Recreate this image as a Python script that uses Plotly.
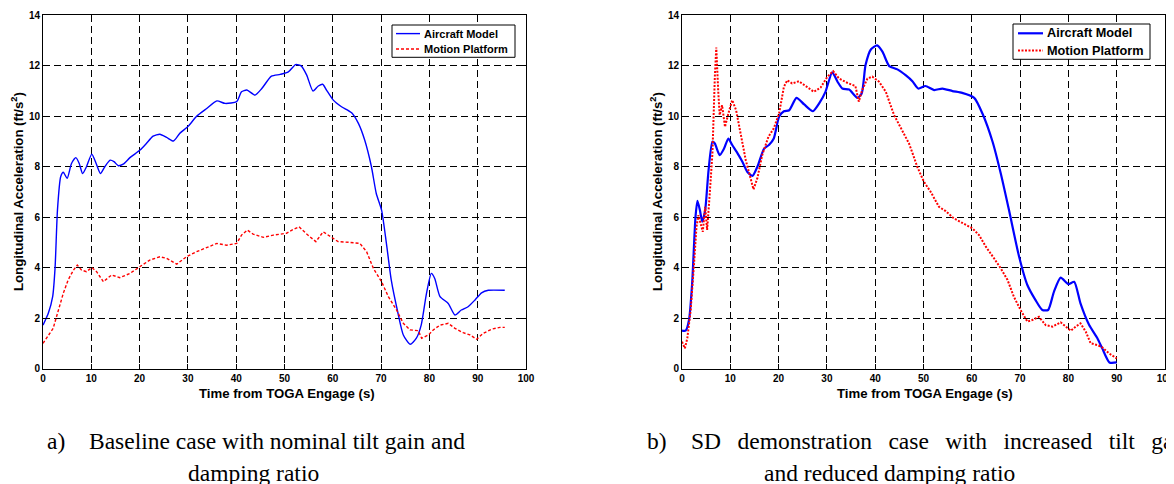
import plotly.graph_objects as go

# ---------------- data ----------------
# a) Baseline case
a_air_t = [0, 1.1, 2.0, 2.5, 3.0, 3.66, 4.2, 5.0, 5.9, 6.8, 7.5, 8.2, 9.0, 10.1, 11.0, 11.9, 12.8, 13.9,
           14.7, 15.6, 16.6, 18.0, 20.1, 21.4, 22.8, 24.2, 25.6, 27.0, 28.3, 30.1, 31.8, 33.9, 36.0, 37.7,
           40.1, 41.1, 42.2, 43.9, 45.3, 47.3, 49.1, 50.8, 52.3, 53.5, 54.6, 55.9, 57.0, 57.9, 58.7, 60.1,
           61.8, 63.9, 65.3, 66.6, 68.0, 69.0, 70.1, 71.1, 72.1, 73.5, 74.6, 76.0, 77.3, 78.3, 79.4, 80.4,
           81.1, 82.2, 83.9, 85.3, 86.6, 88.0, 89.4, 90.8, 92.2, 95.6]
a_air_v = [1.72, 2.19, 2.85, 4.0, 6.3, 7.6, 7.78, 7.54, 8.13, 8.36, 8.13, 7.73, 8.0, 8.5, 8.13, 7.73, 8.0, 8.26,
           8.2, 8.04, 8.1, 8.36, 8.66, 8.92, 9.21, 9.29, 9.16, 9.02, 9.32, 9.61, 10.0, 10.31, 10.61, 10.51,
           10.58, 10.97, 11.04, 10.84, 11.1, 11.59, 11.66, 11.76, 12.05, 11.99, 11.63, 11.0, 11.2, 11.27, 11.04, 10.64,
           10.38, 10.14, 9.72, 9.06, 8.0, 6.94, 6.28, 4.96, 3.51, 2.19, 1.33, 0.96, 1.2, 1.72, 2.98, 3.77,
           3.57, 2.85, 2.58, 2.12, 2.32, 2.45, 2.71, 3.0, 3.1, 3.1]
a_mp_t = [0, 1.1, 2.1, 3.2, 4.2, 5.2, 6.3, 7.1, 8.0, 9.0, 10.1, 11.1, 12.5, 14.2, 15.9, 18.0, 20.1, 22.1,
          24.2, 25.6, 27.7, 29.7, 31.8, 33.9, 36.0, 38.0, 40.1, 41.1, 42.3, 43.5, 45.6, 47.7, 50.4, 51.8,
          53.0, 54.6, 56.5, 58.0, 59.4, 61.1, 63.6, 65.6, 67.0, 68.4, 70.1, 71.5, 73.2, 74.6, 76.0, 77.7,
          78.4, 79.8, 80.8, 82.2, 83.9, 85.3, 87.0, 88.4, 89.8, 91.1, 92.9, 94.6, 95.6]
a_mp_v = [1.0, 1.33, 1.59, 2.32, 2.98, 3.51, 3.9, 4.1, 3.9, 3.84, 4.0, 3.84, 3.44, 3.71, 3.6, 3.77, 4.04, 4.3,
          4.43, 4.37, 4.14, 4.43, 4.63, 4.8, 4.96, 4.89, 4.96, 5.29, 5.49, 5.33, 5.2, 5.29, 5.36, 5.51,
          5.62, 5.33, 5.03, 5.42, 5.25, 5.03, 5.0, 4.96, 4.63, 3.97, 3.44, 2.85, 2.32, 1.79, 1.53, 1.5,
          1.2, 1.33, 1.53, 1.72, 1.79, 1.59, 1.42, 1.33, 1.16, 1.39, 1.56, 1.63, 1.63]

# b) SD demonstration case
b_air_t = [0, 0.76, 1.45, 2.1, 2.8, 3.2, 3.7, 4.2, 4.8, 5.5, 6.3, 6.8, 7.8, 8.7, 9.6, 10.4, 11.5, 12.5, 13.5,
           14.6, 15.6, 17.0, 18.0, 19.0, 20.1, 21.1, 22.2, 23.7, 25.3, 27.1, 28.4, 29.7, 31.1, 32.2, 33.2,
           34.6, 36.3, 37.2, 38.0, 39.1, 40.4, 41.5, 42.9, 44.6, 46.3, 47.7, 48.9, 50.4, 52.2, 53.9, 56.0,
           58.0, 60.5, 62.2, 64.3, 66.0, 67.7, 69.8, 71.5, 73.2, 74.6, 75.8, 77.0, 78.4, 80.0, 81.2, 82.5,
           84.3, 86.0, 87.0, 88.5, 90.0]
b_air_v = [1.5, 1.5, 1.92, 3.37, 6.02, 6.65, 6.28, 5.82, 6.28, 7.87, 8.99, 8.92, 8.46, 8.72, 9.12, 8.86, 8.53, 8.2, 7.8,
           7.64, 8.0, 8.72, 8.86, 9.12, 9.98, 10.2, 10.24, 10.73, 10.47, 10.2, 10.51, 10.97, 11.74, 11.37, 11.1,
           11.06, 10.73, 10.9, 12.03, 12.65, 12.81, 12.56, 11.99, 11.86, 11.63, 11.39, 11.1, 11.2, 11.04, 11.1, 11.0,
           10.93, 10.73, 10.11, 8.99, 7.73, 6.28, 4.43, 3.31, 2.71, 2.32, 2.32, 3.04, 3.6, 3.34, 3.44, 2.58,
           1.72, 1.2, 0.8, 0.24, 0.24]
b_mp_t = [0, 0.6, 1.1, 1.8, 2.5, 3.0, 3.4, 3.9, 4.3, 4.8, 5.2, 5.7, 6.3, 6.8, 7.1, 7.5, 7.8, 8.3, 8.9, 9.6,
          10.4, 11.2, 12.1, 13.2, 14.2, 14.8, 15.6, 16.6, 17.9, 19.0, 20.1, 21.1, 21.8, 22.8, 24.2, 25.9,
          27.3, 28.7, 30.1, 31.3, 32.5, 34.2, 35.9, 36.6, 37.3, 38.4, 39.4, 40.8, 42.2, 43.9, 45.6, 47.0,
          48.0, 48.7, 50.1, 51.5, 53.2, 54.6, 56.3, 58.0, 60.1, 61.5, 62.9, 64.6, 66.0, 67.4, 68.7, 70.1,
          71.5, 72.5, 73.9, 75.3, 76.7, 78.4, 79.4, 80.5, 81.5, 82.5, 83.6, 84.6, 86.0, 87.0, 88.4, 90.0]
b_mp_v = [1.06, 0.8, 1.2, 2.32, 4.17, 5.62, 6.08, 5.75, 5.42, 6.41, 5.49, 6.81, 8.53, 11.57, 12.73, 10.99, 10.05, 10.44, 9.58, 10.11,
          10.64, 10.24, 9.32, 8.26, 7.54, 7.1, 7.54, 8.46, 9.19, 9.52, 10.11, 11.17, 11.43, 11.3, 11.39, 11.17,
          10.97, 11.14, 11.57, 11.79, 11.5, 11.33, 11.2, 10.58, 11.04, 11.5, 11.57, 11.37, 10.97, 10.05, 9.45, 8.92,
          8.39, 8.0, 7.4, 7.0, 6.41, 6.24, 5.95, 5.78, 5.56, 5.29, 4.83, 4.37, 3.97, 3.51, 2.85, 2.32,
          1.86, 1.92, 2.05, 1.72, 1.66, 1.83, 1.66, 1.5, 1.66, 1.79, 1.46, 1.0, 0.93, 0.84, 0.6, 0.4]

x_ticks = [0, 10, 20, 30, 40, 50, 60, 70, 80, 90, 100]
y_ticks = [0, 2, 4, 6, 8, 10, 12, 14]
series_names = ["Aircraft Model", "Motion Platform"]
x_title = "Time from TOGA Engage (s)"
y_title = "Longitudinal Acceleration (ft/s<sup>2</sup>)"
cap_a_label, cap_a_line1, cap_a_line2 = "a)", "Baseline case with nominal tilt gain and", "damping ratio"
cap_b_label, cap_b_line1, cap_b_line2 = "b)", "SD demonstration case with increased tilt gain", "and reduced damping ratio"

# ---------------- figure ----------------
# the page body keeps an 8px margin, so the figure is drawn 8px smaller and
# every reference pixel position is shifted back by that offset
OX, OY = 8, 8
W, H = 1174 - OX, 484 - OY
BLUE, RED = "#0000FF", "#FF0000"
AX_FONT = "Arial, 'Liberation Sans', sans-serif"
SERIF = "'Times New Roman', 'Liberation Serif', serif"

A_AIR_LINE = dict(color=BLUE, width=1.4)
A_MP_LINE = dict(color=RED, width=1.4, dash="3px,2px")
B_AIR_LINE = dict(color=BLUE, width=2.2)
B_MP_LINE = dict(color=RED, width=2, dash="2px,1.5px")

fig = go.Figure()
fig.add_trace(go.Scatter(x=a_air_t, y=a_air_v, mode="lines", name=series_names[0], line=dict(shape="spline", smoothing=0.6, **A_AIR_LINE), xaxis="x", yaxis="y"))
fig.add_trace(go.Scatter(x=a_mp_t, y=a_mp_v, mode="lines", name=series_names[1], line=A_MP_LINE, xaxis="x", yaxis="y"))
fig.add_trace(go.Scatter(x=b_air_t, y=b_air_v, mode="lines", name=series_names[0], line=dict(shape="spline", smoothing=0.6, **B_AIR_LINE), xaxis="x2", yaxis="y2"))
fig.add_trace(go.Scatter(x=b_mp_t, y=b_mp_v, mode="lines", name=series_names[1], line=B_MP_LINE, xaxis="x2", yaxis="y2"))


def px_x(p):
    return (p - OX) / W


def px_y(p):
    return 1 - (p - OY) / H


axis_common = dict(
    showline=True, linecolor="black", linewidth=1, mirror="ticks",
    ticks="inside", ticklen=5, tickcolor="black", automargin=False,
    showgrid=True, gridcolor="black", gridwidth=1, griddash="7px,4px",
    zeroline=False, tickfont=dict(family=AX_FONT, size=10, color="black", weight="bold"),
    fixedrange=True,
)
ydom = [px_y(368.5), px_y(15.4)]
fig.update_layout(
    xaxis=dict(domain=[px_x(43), px_x(526)], range=[0, 100], tickvals=x_ticks, anchor="y", **axis_common),
    yaxis=dict(domain=ydom, range=[0, 14], tickvals=y_ticks, anchor="x", **axis_common),
    xaxis2=dict(domain=[px_x(682), px_x(1165)], range=[0, 100], tickvals=x_ticks, anchor="y2", **axis_common),
    yaxis2=dict(domain=ydom, range=[0, 14], tickvals=y_ticks, anchor="x2", **axis_common),
)

shapes = []
annots = []


# ---- legends (box, line samples, labels) ----
def add_legend(box, y_rows, sample_x, text_x, lines, fsize):
    x0, x1, y0, y1 = box
    shapes.append(dict(type="rect", xref="paper", yref="paper", x0=px_x(x0), x1=px_x(x1), y0=px_y(y1), y1=px_y(y0),
                       fillcolor="white", line=dict(color="black", width=1), layer="above"))
    for yr, ln, name in zip(y_rows, lines, series_names):
        shapes.append(dict(type="line", xref="paper", yref="paper", x0=px_x(sample_x[0]), x1=px_x(sample_x[1]),
                           y0=px_y(yr), y1=px_y(yr), line=ln, layer="above"))
        annots.append(dict(text=name, x=px_x(text_x), y=px_y(yr), xref="paper", yref="paper", xanchor="left",
                           yanchor="middle", showarrow=False,
                           font=dict(family=AX_FONT, size=fsize, color="black", weight="bold")))


add_legend((392, 515, 25, 57.3), (33.6, 49), (396, 420), 422, [A_AIR_LINE, A_MP_LINE], 11)
add_legend((1013, 1150, 24, 59.3), (33.3, 50.5), (1018, 1043), 1045, [B_AIR_LINE, B_MP_LINE], 12.7)

# ---- axis titles ----
title_font = dict(family=AX_FONT, size=13.2, color="black", weight="bold")
for xc, yx in [(287, 18), (925, 657)]:
    annots.append(dict(text=x_title, x=px_x(xc), y=px_y(393), xref="paper", yref="paper", xanchor="center",
                       yanchor="middle", showarrow=False, font=title_font))
    annots.append(dict(text=y_title, x=px_x(yx), y=px_y(192), xref="paper", yref="paper", xanchor="center",
                       yanchor="middle", textangle=-90, showarrow=False, font=title_font))

# ---- captions (line 1 of b is justified, i.e. wider word gaps) ----
cap_font = dict(family=SERIF, size=23.5, color="black")
caps = [
    dict(text=cap_a_label, x=px_x(45), y=px_y(441), xanchor="left"),
    dict(text=cap_a_line1, x=px_x(87), y=px_y(441), xanchor="left"),
    dict(text=cap_a_line2, x=px_x(253), y=px_y(473), xanchor="center"),
    dict(text=cap_b_label, x=px_x(645), y=px_y(441), xanchor="left"),
    dict(text=cap_b_line1.replace(" ", "\u00a0\u2009 "), x=px_x(689), y=px_y(441), xanchor="left"),
    dict(text=cap_b_line2, x=px_x(889), y=px_y(473), xanchor="center"),
]
for c in caps:
    c.update(xref="paper", yref="paper", yanchor="middle", showarrow=False, font=cap_font)
annots += caps

fig.update_layout(
    shapes=shapes,
    annotations=annots,
    width=W, height=H, autosize=False,
    margin=dict(l=0, r=0, t=0, b=0, pad=0, autoexpand=False),
    paper_bgcolor="white", plot_bgcolor="white",
    showlegend=False,
)

fig.write_html("out.html")
